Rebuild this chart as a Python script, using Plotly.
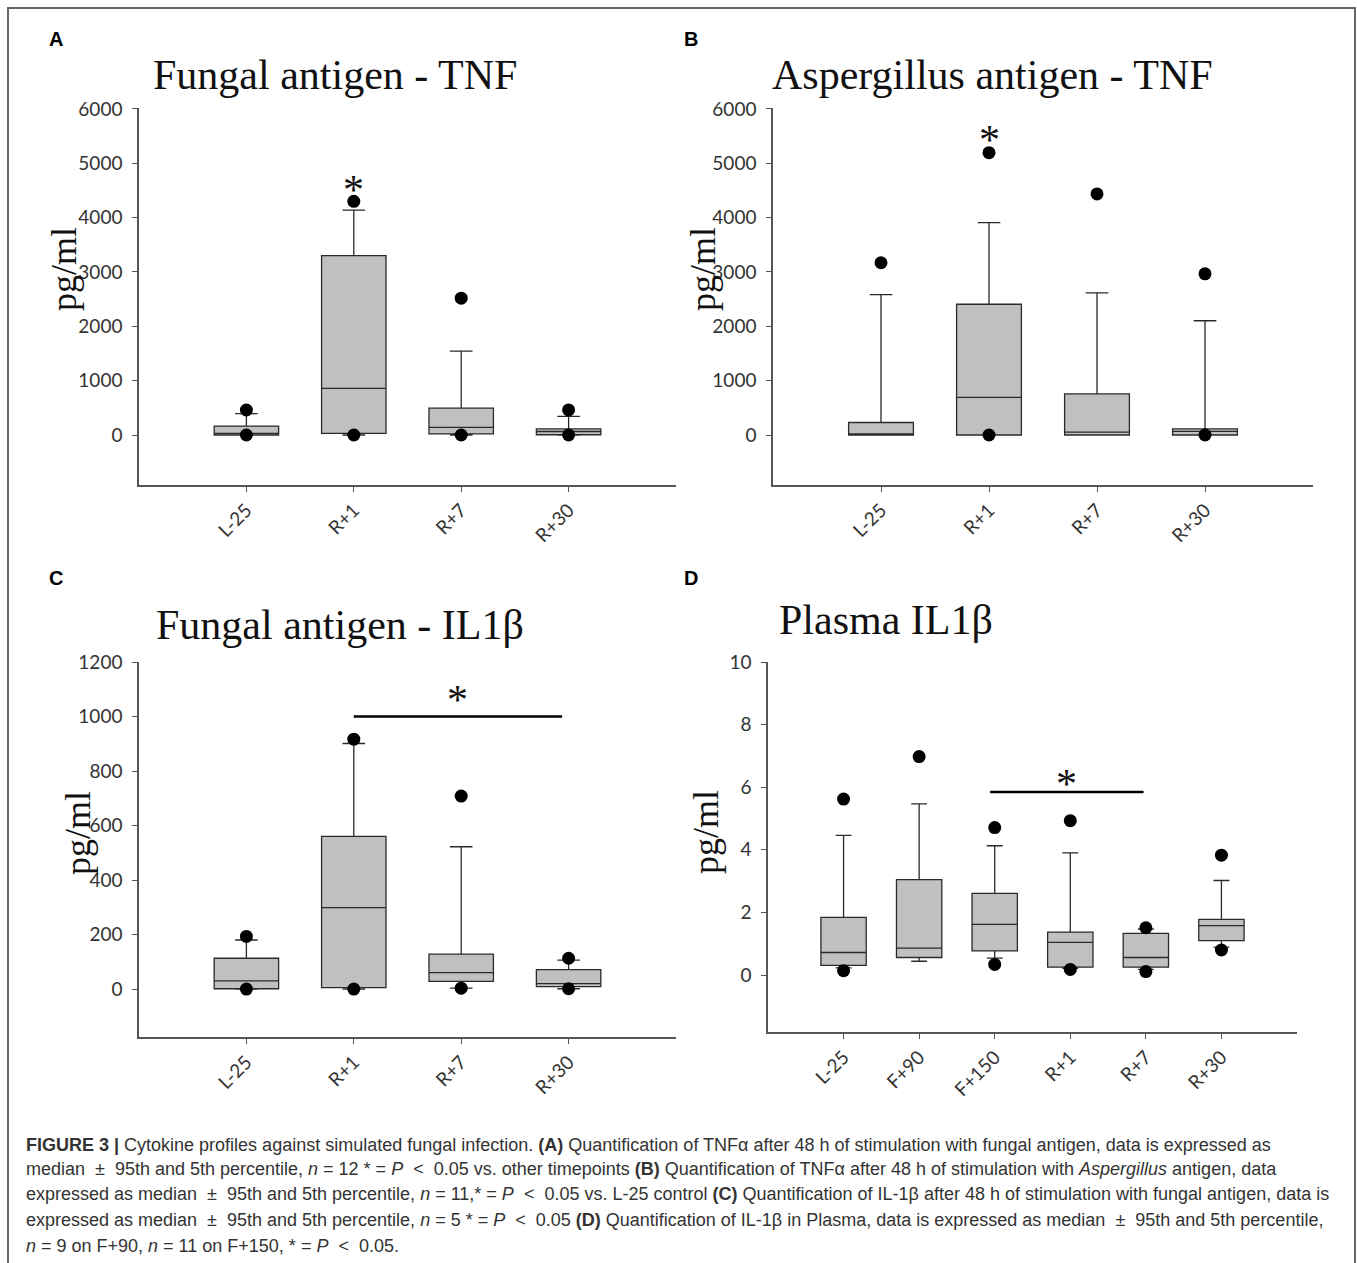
import plotly.graph_objects as go

# ---------------- data ----------------
cats4 = ["L-25", "R+1", "R+7", "R+30"]
cats6 = ["L-25", "F+90", "F+150", "R+1", "R+7", "R+30"]

# Panel A: Fungal antigen - TNF
A_q1 = [0, 30, 20, 5]
A_med = [30, 857, 140, 65]
A_q3 = [165, 3300, 494, 112]
A_low = [0, 0, 0, 0]
A_up = [395, 4140, 1543, 343]
A_out_x = ["L-25", "L-25", "R+1", "R+1", "R+7", "R+7", "R+30", "R+30"]
A_out_y = [460, 0, 4300, 0, 2518, 0, 461, 0]

# Panel B: Aspergillus antigen - TNF
B_q1 = [0, 0, 0, 0]
B_med = [15, 692, 53, 66]
B_q3 = [230, 2406, 758, 112]
B_low = [0, 0, 0, 0]
B_up = [2584, 3909, 2617, 2103]
B_out_x = ["L-25", "R+1", "R+1", "R+7", "R+30", "R+30"]
B_out_y = [3170, 5195, 0, 4436, 2966, 0]

# Panel C: Fungal antigen - IL1b
C_q1 = [1, 5, 28, 9]
C_med = [30, 299, 60, 20]
C_q3 = [113, 560, 128, 71]
C_low = [0, 0, 3, 1]
C_up = [180, 901, 522, 106]
C_out_x = ["L-25", "L-25", "R+1", "R+1", "R+7", "R+7", "R+30", "R+30"]
C_out_y = [193, 0, 917, 0, 708, 3, 113, 1]

# Panel D: Plasma IL1b
D_q1 = [0.31, 0.56, 0.77, 0.25, 0.25, 1.10]
D_med = [0.72, 0.86, 1.62, 1.04, 0.56, 1.58]
D_q3 = [1.84, 3.05, 2.61, 1.37, 1.33, 1.78]
D_low = [0.23, 0.44, 0.54, 0.21, 0.18, 0.89]
D_up = [4.46, 5.47, 4.13, 3.90, 1.47, 3.02]
D_out_x = ["L-25", "L-25", "F+90", "F+150", "F+150", "R+1", "R+1", "R+7", "R+7", "R+30", "R+30"]
D_out_y = [5.62, 0.14, 6.98, 4.71, 0.34, 4.93, 0.18, 1.51, 0.11, 3.83, 0.80]

# significance marks
A_star = ("R+1", 4700)
B_star = ("R+1", 5620)
C_bar = ("R+1", "R+30", 1000)
D_bar = ("F+150", "R+7", 5.85)

titles = ["Fungal antigen - TNF", "Aspergillus antigen - TNF",
          "Fungal antigen - IL1β", "Plasma IL1β"]
panel_labels = ["A", "B", "C", "D"]
y_ticks = {
    "A": [0, 1000, 2000, 3000, 4000, 5000, 6000],
    "B": [0, 1000, 2000, 3000, 4000, 5000, 6000],
    "C": [0, 200, 400, 600, 800, 1000, 1200],
    "D": [0, 2, 4, 6, 8, 10],
}
y_title = "pg/ml"

PM = "&nbsp;&nbsp;±&nbsp;&nbsp;"
LT = "&nbsp;&nbsp;&lt;&nbsp;&nbsp;"
caption_lines = [
    "<b>FIGURE 3 |</b> Cytokine profiles against simulated fungal infection. <b>(A)</b> Quantification of TNFα after 48 h of stimulation with fungal antigen, data is expressed as",
    f"median{PM}95th and 5th percentile, <i>n</i> = 12 * = <i>P</i>{LT}0.05 vs. other timepoints <b>(B)</b> Quantification of TNFα after 48 h of stimulation with <i>Aspergillus</i> antigen, data",
    f"expressed as median{PM}95th and 5th percentile, <i>n</i> = 11,* = <i>P</i>{LT}0.05 vs. L-25 control <b>(C)</b> Quantification of IL-1β after 48 h of stimulation with fungal antigen, data is",
    f"expressed as median{PM}95th and 5th percentile, <i>n</i> = 5 * = <i>P</i>{LT}0.05 <b>(D)</b> Quantification of IL-1β in Plasma, data is expressed as median{PM}95th and 5th percentile,",
    f"<i>n</i> = 9 on F+90, <i>n</i> = 11 on F+150, * = <i>P</i>{LT}0.05.",
]

# ---------------- figure ----------------
W, H = 1357, 1263
BOX_FILL = "#c0c0c0"
BOX_LINE = "#2a2a2a"
AX_COL = "#555555"
TICK_FONT = dict(family="Lato, Open Sans, sans-serif", size=19, color="#333333")
SERIF = "Liberation Serif, Times New Roman, serif"

fig = go.Figure()

panels = [
    ("x", "y", cats4, A_q1, A_med, A_q3, A_low, A_up, A_out_x, A_out_y),
    ("x2", "y2", cats4, B_q1, B_med, B_q3, B_low, B_up, B_out_x, B_out_y),
    ("x3", "y3", cats4, C_q1, C_med, C_q3, C_low, C_up, C_out_x, C_out_y),
    ("x4", "y4", cats6, D_q1, D_med, D_q3, D_low, D_up, D_out_x, D_out_y),
]

for xa, ya, cats, q1, med, q3, lo, up, ox, oy in panels:
    fig.add_trace(go.Box(
        x=cats, q1=q1, median=med, q3=q3, lowerfence=lo, upperfence=up,
        xaxis=xa, yaxis=ya, fillcolor=BOX_FILL,
        line=dict(color=BOX_LINE, width=1.3),
        width=0.6, whiskerwidth=0.35, boxpoints=False,
        showlegend=False, hoverinfo="skip",
    ))
for xa, ya, cats, q1, med, q3, lo, up, ox, oy in panels:
    fig.add_trace(go.Scatter(
        x=ox, y=oy, xaxis=xa, yaxis=ya, mode="markers",
        marker=dict(color="black", size=13),
        showlegend=False, hoverinfo="skip", cliponaxis=False,
    ))


def px_x(p):
    return p / W


def px_y(p):
    return 1 - p / H


domains = {
    "A": ([px_x(139), px_x(676)], [px_y(485), px_y(108)]),
    "B": ([px_x(773), px_x(1313)], [px_y(485), px_y(108)]),
    "C": ([px_x(139), px_x(676)], [px_y(1037), px_y(662)]),
    "D": ([px_x(768), px_x(1297)], [px_y(1032), px_y(662)]),
}
y_ranges = {"A": [-920, 6018], "B": [-920, 6018], "C": [-176, 1200], "D": [-1.82, 10]}
axis_names = {"A": ("xaxis", "yaxis"), "B": ("xaxis2", "yaxis2"),
              "C": ("xaxis3", "yaxis3"), "D": ("xaxis4", "yaxis4")}
panel_cats = {"A": cats4, "B": cats4, "C": cats4, "D": cats6}

layout_axes = {}
for key in ["A", "B", "C", "D"]:
    xn, yn = axis_names[key]
    xd, yd = domains[key]
    cats = panel_cats[key]
    anchor_y = yn.replace("axis", "")
    anchor_x = xn.replace("axis", "")
    layout_axes[xn] = dict(
        domain=xd, anchor=anchor_y, type="category",
        categoryorder="array", categoryarray=cats,
        range=[-1, len(cats)], showline=True, linecolor=AX_COL, linewidth=1.5,
        ticks="outside", ticklen=5, tickcolor=AX_COL, tickwidth=1.2,
        tickangle=-45, tickfont=TICK_FONT, showgrid=False, zeroline=False,
        automargin=False, fixedrange=True,
    )
    layout_axes[yn] = dict(
        domain=yd, anchor=anchor_x, range=y_ranges[key],
        tickvals=y_ticks[key], showline=True, linecolor=AX_COL, linewidth=1.5,
        ticks="outside", ticklen=5, tickcolor=AX_COL, tickwidth=1.2,
        tickfont=TICK_FONT, showgrid=False, zeroline=False,
        ticklabelstandoff=6, automargin=False, fixedrange=True,
    )

annotations = []
# titles
title_pos = [(335, 75), (993, 75), (340, 625), (886, 620)]
for t, (tx, ty) in zip(titles, title_pos):
    annotations.append(dict(text=t, x=px_x(tx), y=px_y(ty), xref="paper", yref="paper",
                            showarrow=False, xanchor="center", yanchor="middle",
                            font=dict(family=SERIF, size=42, color="#111111")))
# panel letters
label_pos = [(56, 39), (691, 39), (56, 578), (691, 578)]
for lab, (lx, ly) in zip(panel_labels, label_pos):
    annotations.append(dict(text="<b>%s</b>" % lab, x=px_x(lx), y=px_y(ly), xref="paper", yref="paper",
                            showarrow=False, xanchor="center", yanchor="middle",
                            font=dict(family="Liberation Sans, Arial, sans-serif", size=20, color="black")))
# y titles
ytitle_pos = [(64, 269), (703, 269), (78, 833), (706, 832)]
for (yx, yy) in ytitle_pos:
    annotations.append(dict(text=y_title, x=px_x(yx), y=px_y(yy), xref="paper", yref="paper",
                            showarrow=False, xanchor="center", yanchor="middle", textangle=-90,
                            font=dict(family=SERIF, size=36, color="#111111")))

STAR_FONT = dict(family=SERIF, size=42, color="#111111")
# stars A, B
annotations.append(dict(text="*", x=A_star[0], y=A_star[1], xref="x", yref="y", showarrow=False,
                        yanchor="middle", yshift=-10, font=STAR_FONT))
annotations.append(dict(text="*", x=B_star[0], y=B_star[1], xref="x2", yref="y2", showarrow=False,
                        yanchor="middle", yshift=-10, font=STAR_FONT))

shapes = []
# significance bar C
c0 = cats4.index(C_bar[0])
c1 = cats4.index(C_bar[1]) - 0.06
shapes.append(dict(type="line", xref="x3", yref="y3", x0=c0, x1=c1, y0=C_bar[2], y1=C_bar[2],
                   line=dict(color="black", width=2.5)))
annotations.append(dict(text="*", x=(c0 + c1) / 2, y=C_bar[2], xref="x3", yref="y3", showarrow=False,
                        yanchor="bottom", yshift=-8, font=STAR_FONT))
# significance bar D
d0 = cats6.index(D_bar[0]) - 0.06
d1 = cats6.index(D_bar[1]) - 0.03
shapes.append(dict(type="line", xref="x4", yref="y4", x0=d0, x1=d1, y0=D_bar[2], y1=D_bar[2],
                   line=dict(color="black", width=2.5)))
annotations.append(dict(text="*", x=(d0 + d1) / 2, y=D_bar[2], xref="x4", yref="y4", showarrow=False,
                        yanchor="bottom", yshift=-17, font=STAR_FONT))

# caption
cap_y = [1145, 1169, 1194, 1220, 1246]
for line, cy in zip(caption_lines, cap_y):
    annotations.append(dict(text=line, x=px_x(24), y=px_y(cy), xref="paper", yref="paper",
                            showarrow=False, xanchor="left", yanchor="middle", align="left",
                            font=dict(family="Liberation Sans, Arial, sans-serif", size=18, color="#333333")))

# outer frame
shapes.append(dict(type="rect", xref="paper", yref="paper", x0=px_x(8), x1=px_x(1355),
                   y0=-0.05, y1=px_y(8), line=dict(color="#666666", width=2), layer="below"))

fig.update_layout(
    width=W, height=H, margin=dict(l=0, r=0, t=0, b=0, autoexpand=False),
    paper_bgcolor="white", plot_bgcolor="white",
    showlegend=False, annotations=annotations, shapes=shapes,
    **layout_axes,
)

fig.write_html("out.html", config={"displayModeBar": False})
